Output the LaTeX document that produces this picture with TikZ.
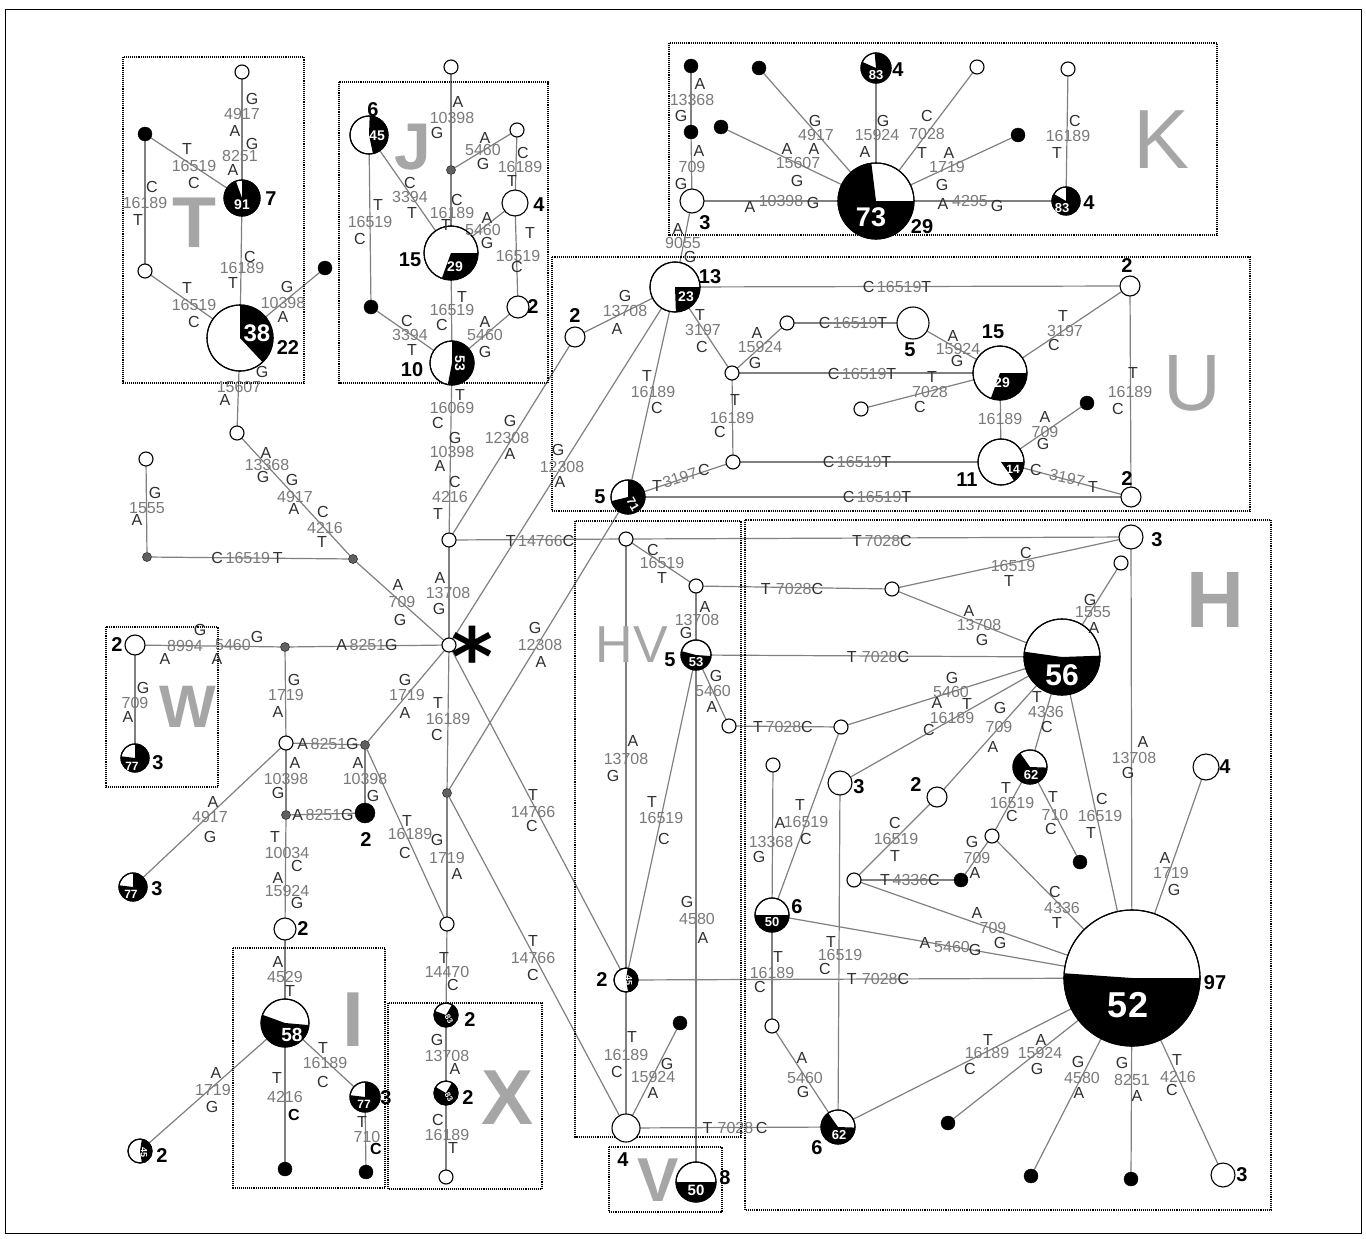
\documentclass[tikz,border=0pt]{standalone}
\usepackage{fontspec}
\setmainfont{Liberation Sans}
\newfontfamily\djv{DejaVu Sans}
\pgfdeclarelayer{background}
\pgfdeclarelayer{paper}
\pgfsetlayers{paper,background,main}
\definecolor{edgec}{HTML}{808080}
\definecolor{numc}{HTML}{7A7A7A}
\definecolor{letc}{HTML}{303030}
\definecolor{grpc}{HTML}{A6A6A6}
\definecolor{mvc}{HTML}{606060}
\tikzset{
 hap/.style={circle,draw=black,line width=1.1pt,fill=white,inner sep=0pt,outer sep=0pt},
 wsm/.style={hap,minimum size=14pt},
 bdot/.style={circle,fill=black,draw=black,inner sep=0pt,minimum size=14pt},
 mv/.style={circle,fill=mvc,draw=black!80,line width=0.6pt,inner sep=0pt,minimum size=9pt},
 edge/.style={draw=edgec,line width=1.2pt},
 lett/.style={text=letc,font=\fontsize{16}{16}\selectfont,inner sep=0pt},
 numb/.style={text=numc,font=\fontsize{16}{16}\selectfont,inner sep=0pt},
 cnt/.style={text=black,font=\fontsize{20}{20}\selectfont\bfseries,inner sep=0pt},
 ptxt/.style={text=white,inner sep=0pt},
 grp/.style={text=grpc,inner sep=0pt},
 grpbox/.style={draw=black,densely dotted,line width=1.1pt},
}
\newcounter{lbl}
\newcommand\W[3]{\node[wsm] (#1) at (#2,-#3) {};}
\newcommand\B[3]{\node[bdot] (#1) at (#2,-#3) {};}
\newcommand\M[3]{\node[mv] (#1) at (#2,-#3) {};}
\newcommand\HW[4]{\node[hap,minimum size=#4pt] (#1) at (#2,-#3) {};}
\newcommand\hpie[6]{\node[hap,minimum size=2*#4pt] (#1) at (#2,-#3) {};
 \fill[black] (#2,-#3) -- ++(#5:#4) arc[start angle=#5,end angle=#6,radius=#4] -- cycle;
 \draw[black,line width=1.1pt] (#2,-#3) circle[radius=#4];}
\newcommand\Lt[3]{\stepcounter{lbl}\node[lett] (lbl\thelbl) at (#1,-#2) {#3};}
\newcommand\Lb[3]{\stepcounter{lbl}\node[lett,text=black,font=\fontsize{16}{16}\selectfont\bfseries] (lbl\thelbl) at (#1,-#2) {#3};}
\newcommand\Nm[3]{\stepcounter{lbl}\node[numb] (lbl\thelbl) at (#1,-#2) {#3};}
\newcommand\Nr[4]{\stepcounter{lbl}\node[numb,rotate=#4] (lbl\thelbl) at (#1,-#2) {#3};}
\newcommand\HL[5]{\stepcounter{lbl}\node[numb] (lbl\thelbl) at (#1,-#2) {\textcolor{letc}{#3}\,#4\textcolor{letc}{#5}};}
\newcommand\CT[3]{\stepcounter{lbl}\node[cnt] (lbl\thelbl) at (#1,-#2) {#3};}
\newcommand\PT[5]{\stepcounter{lbl}\node[ptxt,font=\fontsize{#4}{#4}\selectfont\bfseries,#5] (lbl\thelbl) at (#1,-#2) {#3};}
\newcommand\GL[5]{\stepcounter{lbl}\node[grp,font=\fontsize{#4}{#4}\selectfont#5] (lbl\thelbl) at (#1,-#2) {#3};}
\begin{document}
\begin{tikzpicture}[x=1pt,y=1pt]
\useasboundingbox (0,0) rectangle (1366,-1239);
\begin{pgfonlayer}{paper}
\fill[white] (0,0) rectangle (1366,-1239);
\end{pgfonlayer}
\draw[black,line width=1pt] (5,-10) rectangle (1361,-1233);
% group boxes
\draw[grpbox] (123,-57) rectangle (304,-383);
\draw[grpbox] (339,-82) rectangle (548,-383);
\draw[grpbox] (669,-43) rectangle (1217,-235);
\draw[grpbox] (552,-257) rectangle (1250,-511);
\draw[grpbox] (106,-627) rectangle (218,-787);
\draw[grpbox] (233,-948) rectangle (385,-1188);
\draw[grpbox] (388,-1003) rectangle (542,-1189);
\draw[grpbox] (575,-521) rectangle (741,-1137);
\draw[grpbox] (745,-520) rectangle (1271,-1210);
\draw[grpbox] (609,-1147) rectangle (722,-1212);
% group letters
\GL{194}{223}{T}{72}{\bfseries}
\GL{413}{147}{J}{66}{\bfseries}
\GL{1162}{140}{K}{84}{}
\GL{1192}{383}{U}{80}{}
\GL{188}{707}{W}{60}{\bfseries}
\GL{353}{1020}{I}{78}{\bfseries}
\GL{508}{1098}{X}{78}{\bfseries}
\GL{632}{645}{HV}{52}{}
\GL{1215}{600}{H}{80}{\bfseries}
\GL{658}{1180}{V}{62}{\bfseries}
% ---------- nodes
% T
\W{t1}{242}{72}
\B{t2}{145}{134}
\hpie{t91}{242}{198}{18}{110}{450}
\W{t3}{145}{271}
\B{t4}{325}{268}
\hpie{t38}{240}{338}{33}{-47}{90}
\W{t5}{237}{433}
% left
\W{l1}{146}{459}
\M{m2}{147}{557}
\M{m1}{353}{559}
% W
\HW{w2}{135}{645}{20}
\hpie{w77}{135}{758}{14}{173}{450}
\M{m3}{285}{647}
% centre
\W{c1}{449}{540}
\W{star}{449}{645}
\W{a1}{286}{743}
\M{m4}{365}{745}
\M{m5}{286}{815}
\node[bdot,minimum size=20pt] (b2) at (365,-813) {};
\hpie{p77}{133}{887}{14}{173}{450}
\HW{a2}{285}{929}{22}
\M{m6}{447}{793}
\W{a3}{447}{924}
% I
\hpie{i58}{285}{1023}{24}{160}{355}
\B{ib1}{285}{1169}
\hpie{i77}{365}{1097}{15}{173}{450}
\B{ib2}{366}{1172}
\hpie{i45}{140}{1151}{12}{-81}{81}
% X
\hpie{x1}{446}{1015}{12}{160}{420}
\hpie{x2}{446}{1093}{12}{150}{420}
\W{x3}{446}{1177}
% J
\W{j1}{451}{67}
\hpie{j45}{369}{135}{19}{-78}{88}
\M{jm}{451}{170}
\W{j2}{517}{130}
\HW{j4}{515}{203}{26}
\hpie{j15}{451}{253}{27}{-110}{0}
\B{jb}{371}{307}
\HW{j2b}{518}{307}{22}
\hpie{j10}{452}{363}{22}{-101}{90}
% K
\B{kb1}{691}{66}
\B{kb2}{691}{132}
\HW{k3}{692}{201}{24}
\B{kb3}{759}{68}
\B{kb4}{721}{127}
\hpie{k83a}{876}{68}{15}{156}{455}
\W{kw1}{977}{67}
\B{kb5}{1018}{135}
\hpie{k73}{876}{201}{38}{97}{360}
\W{kw2}{1068}{69}
\hpie{k83b}{1066}{201}{14}{150}{450}
% U
\hpie{u13}{675}{287}{25}{-88}{0}
\HW{u2}{575}{337}{20}
\hpie{u71}{628}{497}{17}{194}{450}
\W{uw1}{732}{373}
\W{uw2}{787}{323}
\HW{u5}{913}{323}{32}
\W{uw3}{733}{462}
\W{uw4}{861}{409}
\hpie{u15}{1000}{373}{27}{-110}{0}
\hpie{u11}{1001}{462}{23}{-55}{0}
\HW{u2a}{1130}{286}{20}
\HW{u2b}{1131}{497}{20}
\B{ub}{1087}{403}
% HV
\W{hv1}{626}{539}
\W{hv2}{696}{586}
\hpie{hv53}{696}{655}{15}{165}{356}
\W{hv3}{729}{726}
\hpie{hv45}{626}{980}{12}{-80}{82}
\HW{hv4}{626}{1128}{28}
\B{hvb}{680}{1023}
\hpie{v50}{696}{1182}{20}{180}{360}
% H
\HW{h3}{1131}{537}{24}
\W{hs}{1121}{563}
\W{hw1}{892}{589}
\hpie{h56}{1062}{657}{38}{172}{362}
\W{hw2}{841}{727}
\W{hw3}{773}{765}
\HW{hn3}{840}{783}{24}
\HW{hn2}{937}{797}{20}
\hpie{h62a}{1030}{767}{17}{125}{358}
\W{hw4}{992}{836}
\B{hb1}{1080}{862}
\W{hw5}{854}{880}
\B{hb2}{961}{880}
\hpie{h50}{772}{915}{17}{180}{360}
\HW{h4}{1206}{767}{26}
\hpie{h52}{1132}{978}{68}{176}{360}
\W{hw6}{772}{1026}
\hpie{h62b}{838}{1127}{17}{125}{358}
\B{hb3}{948}{1123}
\B{hb4}{1031}{1176}
\B{hb5}{1131}{1179}
\HW{h3b}{1223}{1175}{24}
% ---------- pie texts
\PT{242}{205}{91}{14}{}
\PT{257}{333}{38}{24}{}
\PT{377}{136}{45}{14}{}
\PT{455}{267}{29}{14}{}
\PT{460}{363}{53}{14}{rotate=-90}
\PT{876}{75}{83}{13}{}
\PT{871}{217}{73}{27}{}
\PT{1062}{208}{83}{13}{}
\PT{686}{297}{23}{14}{}
\PT{633}{504}{71}{12}{rotate=-60}
\PT{1002}{383}{29}{14}{}
\PT{1013}{469}{14}{12}{}
\PT{132}{766}{77}{12}{}
\PT{131}{894}{77}{12}{}
\PT{292}{1035}{58}{19}{}
\PT{364}{1104}{77}{12}{}
\PT{144}{1152}{45}{9}{rotate=-90}
\PT{449}{1019}{83}{8}{rotate=-60}
\PT{449}{1097}{83}{8}{rotate=-60}
\PT{696}{662}{53}{13}{}
\PT{629}{980}{45}{9}{rotate=-90}
\PT{696}{1190}{50}{15}{}
\PT{772}{922}{50}{13}{}
\PT{1062}{675}{56}{30}{}
\PT{1031}{775}{62}{13}{}
\PT{839}{1135}{62}{13}{}
\PT{1128}{1005}{52}{36}{}
% ---------- counts
\CT{271}{199}{7}
\CT{288}{348}{22}
\CT{373}{110}{6}
\CT{539}{205}{4}
\CT{410}{260}{15}
\CT{533}{307}{2}
\CT{412}{370}{10}
\CT{705}{223}{3}
\CT{898}{70}{4}
\CT{922}{227}{29}
\CT{1089}{203}{4}
\CT{710}{277}{13}
\CT{575}{316}{2}
\CT{600}{497}{5}
\CT{910}{350}{5}
\CT{993}{332}{15}
\CT{967}{480}{11}
\CT{1127}{266}{2}
\CT{1127}{479}{2}
\CT{117}{645}{2}
\CT{158}{763}{3}
\CT{366}{840}{2}
\CT{157}{889}{3}
\CT{303}{929}{2}
\CT{386}{1098}{3}
\CT{162}{1156}{2}
\CT{470}{1020}{2}
\CT{468}{1098}{2}
\CT{670}{660}{5}
\CT{602}{980}{2}
\CT{623}{1160}{4}
\CT{725}{1178}{8}
\CT{1157}{540}{3}
\CT{859}{787}{3}
\CT{916}{785}{2}
\CT{1225}{767}{4}
\CT{797}{907}{6}
\CT{1215}{983}{97}
\CT{817}{1148}{6}
\CT{1242}{1175}{3}
\node[font=\djv\bfseries\fontsize{80}{80}\selectfont,inner sep=0pt] (asterisk) at (472,-656) {*};
% ---------- mutation labels
% T
\Lt{252}{99}{G} \Nm{242}{114}{4917} \Lt{235}{131}{A}
\Lt{252}{144}{G} \Nm{240}{156}{8251} \Lt{233}{170}{A}
\Lt{187}{149}{T} \Nm{194}{166}{16519} \Lt{194}{183}{C}
\Lt{152}{187}{C} \Nm{145}{203}{16189} \Lt{138}{220}{T}
\Lt{250}{257}{C} \Nm{242}{268}{16189} \Lt{233}{283}{T}
\Lt{187}{288}{T} \Nm{194}{305}{16519} \Lt{194}{322}{C}
\Lt{287}{287}{G} \Nm{283}{303}{10398} \Lt{283}{317}{A}
\Lt{262}{372}{G} \Nm{239}{387}{15607} \Lt{225}{400}{A}
% left
\Lt{266}{453}{A} \Nm{267}{465}{13368} \Lt{263}{477}{G}
\Lt{292}{480}{G} \Nm{295}{497}{4917} \Lt{294}{509}{A}
\Lt{323}{512}{C} \Nm{325}{528}{4216} \Lt{322}{542}{T}
\Lt{155}{493}{G} \Nm{147}{508}{1555} \Lt{137}{520}{A}
\HL{247}{558}{C}{16519\,}{T}
\Lt{398}{585}{A} \Nm{402}{602}{709} \Lt{400}{620}{G}
\Lt{440}{578}{A} \Nm{448}{593}{13708} \Lt{439}{609}{G}
% J
\Lt{458}{102}{A} \Nm{452}{118}{10398} \Lt{437}{133}{G}
\Lt{485}{138}{A} \Nm{483}{150}{5460} \Lt{483}{164}{G}
\Lt{523}{153}{C} \Nm{520}{167}{16189} \Lt{512}{181}{T}
\Lt{457}{200}{C} \Nm{452}{213}{16189} \Lt{446}{225}{T}
\Lt{410}{183}{C} \Nm{410}{197}{3394} \Lt{412}{213}{T}
\Lt{378}{205}{T} \Nm{370}{222}{16519} \Lt{360}{239}{C}
\Lt{487}{218}{A} \Nm{483}{230}{5460} \Lt{487}{243}{G}
\Lt{530}{233}{T} \Nm{518}{256}{16519} \Lt{517}{267}{C}
\Lt{462}{297}{T} \Nm{452}{310}{16519} \Lt{442}{325}{C}
\Lt{407}{321}{C} \Nm{410}{335}{3394} \Lt{412}{350}{T}
\Lt{485}{322}{A} \Nm{485}{335}{5460} \Lt{485}{352}{G}
\Lt{460}{395}{T} \Nm{452}{408}{16069} \Lt{438}{423}{C}
\Lt{455}{438}{G} \Nm{452}{452}{10398} \Lt{440}{466}{A}
\Lt{455}{482}{C} \Nm{450}{497}{4216} \Lt{438}{514}{T}
% centre
\HL{540}{541}{T}{14766}{C}
\Lt{510}{421}{G} \Nm{507}{438}{12308} \Lt{510}{454}{A}
\Lt{558}{450}{G} \Nm{562}{467}{12308} \Lt{560}{482}{A}
\Lt{535}{628}{G} \Nm{540}{645}{12308} \Lt{541}{662}{A}
\Lt{405}{680}{G} \Nm{407}{695}{1719} \Lt{405}{713}{A}
\Lt{438}{703}{T} \Nm{448}{719}{16189} \Lt{437}{735}{C}
\Lt{533}{795}{T} \Nm{533}{812}{14766} \Lt{532}{826}{C}
\Lt{533}{941}{T} \Nm{533}{958}{14766} \Lt{533}{975}{C}
% W and below
\Lt{200}{630}{G} \Nm{185}{646}{8994} \Lt{165}{659}{A}
\Nm{233}{645}{5460} \Lt{217}{659}{A} \Lt{257}{637}{G}
\HL{367}{645}{A}{8251}{G}
\Lt{143}{688}{G} \Nm{135}{703}{709} \Lt{128}{717}{A}
\Lt{294}{680}{G} \Nm{286}{695}{1719} \Lt{278}{712}{A}
\HL{328}{744}{A}{8251}{G}
\Lt{295}{763}{A} \Nm{286}{779}{10398} \Lt{278}{793}{G}
\Lt{358}{763}{A} \Nm{365}{779}{10398} \Lt{373}{796}{G}
\HL{323}{815}{A}{8251}{G}
\Lt{213}{802}{A} \Nm{210}{817}{4917} \Lt{210}{837}{G}
\Lt{407}{821}{T} \Nm{410}{834}{16189} \Lt{405}{853}{C}
\Lt{437}{840}{G} \Nm{447}{858}{1719} \Lt{457}{874}{A}
\Lt{275}{837}{T} \Nm{287}{853}{10034} \Lt{297}{866}{C}
\Lt{278}{878}{A} \Nm{287}{891}{15924} \Lt{297}{903}{G}
% I
\Lt{278}{962}{A} \Nm{285}{977}{4529} \Lt{290}{991}{T}
\Lt{277}{1078}{T} \Nm{285}{1097}{4216} \Lb{294}{1115}{C}
\Lt{323}{1048}{T} \Nm{325}{1063}{16189} \Lt{323}{1082}{C}
\Lt{362}{1122}{T} \Nm{367}{1137}{710} \Lb{376}{1149}{C}
\Lt{216}{1073}{A} \Nm{213}{1090}{1719} \Lt{212}{1107}{G}
% X
\Lt{444}{958}{T} \Nm{447}{972}{14470} \Lt{453}{985}{C}
\Lt{437}{1040}{G} \Nm{447}{1056}{13708} \Lt{455}{1069}{A}
\Lt{438}{1120}{C} \Nm{447}{1135}{16189} \Lt{453}{1148}{T}
% K
\Lt{700}{84}{A} \Nm{692}{100}{13368} \Lt{681}{116}{G}
\Lt{699}{151}{A} \Nm{692}{167}{709} \Lt{681}{184}{G}
\Lt{678}{229}{A} \Nm{683}{243}{9055} \Lt{690}{257}{G}
\Lt{815}{121}{G} \Nm{816}{135}{4917} \Lt{814}{149}{A}
\Lt{787}{149}{A} \Nm{798}{163}{15607} \Lt{797}{181}{G}
\Lt{883}{121}{G} \Nm{877}{135}{15924} \Lt{865}{152}{A}
\Lt{927}{116}{C} \Nm{927}{134}{7028} \Lt{922}{153}{T}
\Lt{949}{153}{A} \Nm{947}{167}{1719} \Lt{942}{185}{G}
\Lt{750}{207}{A} \Nm{781}{201}{10398} \Lt{813}{203}{G}
\Lt{943}{204}{A} \Nm{970}{201}{4295} \Lt{997}{206}{G}
\Lt{1075}{121}{C} \Nm{1068}{136}{16189} \Lt{1057}{153}{T}
% U
\Lt{625}{296}{G} \Nm{625}{311}{13708} \Lt{617}{329}{A}
\HL{897}{287}{C}{16519}{T}
\Lt{700}{315}{T} \Nm{703}{330}{3197} \Lt{702}{347}{C}
\Lt{757}{333}{A} \Nm{760}{347}{15924} \Lt{755}{363}{G}
\HL{853}{323}{C}{16519}{T}
\HL{862}{374}{C}{16519}{T}
\Lt{735}{400}{T} \Nm{732}{418}{16189} \Lt{720}{432}{C}
\Lt{647}{376}{T} \Nm{653}{392}{16189} \Lt{657}{408}{C}
\Lt{657}{486}{T} \Nr{680}{478}{3197}{18} \Lt{704}{470}{C}
\HL{857}{462}{C}{16519}{T}
\HL{877}{497}{C}{16519}{T}
\Lt{953}{336}{A} \Nm{958}{349}{15924} \Lt{957}{361}{G}
\Lt{932}{377}{T} \Nm{930}{392}{7028} \Lt{920}{407}{C}
\Lt{1063}{316}{T} \Nm{1065}{331}{3197} \Lt{1054}{345}{C}
\Nm{1000}{419}{16189}
\Lt{1045}{417}{A} \Nm{1045}{432}{709} \Lt{1043}{444}{G}
\Lt{1036}{470}{C} \Nr{1067}{478}{3197}{-12} \Lt{1093}{487}{T}
\Lt{1133}{373}{T} \Nm{1130}{392}{16189} \Lt{1118}{409}{C}
% HV
\Lt{653}{550}{C} \Nm{662}{563}{16519} \Lt{662}{578}{T}
\Lt{705}{607}{A} \Nm{697}{620}{13708} \Lt{686}{633}{G}
\Lt{716}{676}{G} \Nm{713}{691}{5460} \Lt{712}{707}{A}
\Lt{633}{741}{A} \Nm{626}{759}{13708} \Lt{613}{776}{G}
\Lt{652}{802}{T} \Nm{661}{818}{16519} \Lt{664}{839}{C}
\Lt{687}{902}{G} \Nm{697}{919}{4580} \Lt{703}{938}{A}
\Lt{632}{1037}{T} \Nm{626}{1055}{16189} \Lt{617}{1072}{C}
\Lt{667}{1064}{G} \Nm{653}{1077}{15924} \Lt{653}{1093}{A}
% H
\HL{882}{541}{T}{7028}{C}
\HL{792}{589}{T}{\,7028}{C}
\HL{878}{657}{T}{\,7028}{C}
\HL{783}{727}{T}{7028}{C}
\HL{878}{979}{T}{\,7028}{C}
\HL{735}{1128}{T}{\,7028\,}{C}
\Lt{1026}{553}{C} \Nm{1013}{566}{16519} \Lt{1009}{581}{T}
\Lt{969}{611}{A} \Nm{979}{625}{13708} \Lt{982}{640}{G}
\Lt{1090}{600}{G} \Nm{1093}{612}{1555} \Lt{1094}{628}{A}
\Lt{952}{678}{G} \Nm{951}{692}{5460} \Lt{937}{703}{A}
\Lt{967}{704}{T} \Nm{952}{718}{16189} \Lt{929}{730}{C}
\Lt{1000}{708}{G} \Nm{999}{727}{709} \Lt{993}{747}{A}
\Lt{1037}{697}{T} \Nm{1046}{712}{4336} \Lt{1047}{727}{C}
\Lt{1102}{799}{C} \Nm{1100}{816}{16519} \Lt{1091}{833}{T}
\Lt{1143}{742}{A} \Nm{1134}{758}{13708} \Lt{1128}{773}{G}
\Lt{1165}{858}{A} \Nm{1171}{873}{1719} \Lt{1174}{890}{G}
\Lt{1006}{788}{T} \Nm{1012}{803}{16519} \Lt{1012}{816}{C}
\Lt{1053}{797}{T} \Nm{1055}{815}{710} \Lt{1051}{829}{C}
\Lt{972}{842}{G} \Nm{977}{858}{709} \Lt{975}{873}{A}
\Lt{895}{823}{C} \Nm{896}{839}{16519} \Lt{895}{856}{T}
\HL{910}{880}{T}{4336}{C}
\Lt{800}{805}{T} \Lt{780}{823}{A} \Nm{806}{822}{16519} \Lt{806}{839}{C}
\Nm{771}{842}{13368} \Lt{759}{857}{G}
\Lt{831}{942}{T} \Nm{840}{955}{16519} \Lt{825}{969}{C}
\Lt{778}{957}{T} \Nm{772}{973}{16189} \Lt{760}{987}{C}
\Lt{802}{1058}{A} \Nm{805}{1078}{5460} \Lt{803}{1092}{G}
\Lt{925}{943}{A} \Nm{952}{947}{5460} \Lt{975}{950}{G}
\Lt{988}{1040}{T} \Nm{987}{1053}{16189} \Lt{970}{1069}{C}
\Lt{1041}{1040}{A} \Nm{1040}{1053}{15924} \Lt{1037}{1069}{G}
\Lt{1078}{1062}{G} \Nm{1082}{1078}{4580} \Lt{1079}{1093}{A}
\Lt{1122}{1063}{G} \Nm{1132}{1080}{8251} \Lt{1137}{1096}{A}
\Lt{1177}{1060}{T} \Nm{1178}{1077}{4216} \Lt{1172}{1090}{C}
\Lt{1055}{892}{C} \Nm{1062}{908}{4336} \Lt{1057}{923}{T}
\Lt{977}{913}{A} \Nm{993}{928}{709} \Lt{1000}{943}{G}
% ---------- edges
\begin{pgfonlayer}{background}
\foreach \a/\b in {t1/t91,t2/t91,t2/t3,t91/t38,t3/t38,t38/t4,t38/t5,t5/m1,
 l1/m2,m2/m1,m1/star,w2/w77,w2/m3,m3/star,
 c1/star,c1/j10,c1/hv1,c1/u2,star/u13,
 m3/a1,a1/m4,star/m4,star/m6,a1/m5,m4/b2,m5/b2,a1/p77,m4/a3,m6/a3,m5/a2,
 a2/i58,i58/ib1,i58/i77,i77/ib2,i58/i45,a3/x1,x1/x2,x2/x3,
 j1/jm,jm/j2,j2/j4,jm/j15,j45/j15,j45/jb,j4/j15,j4/j2b,j15/j10,jb/j10,j2b/j10,
 kb1/kb2,kb2/k3,k3/k73,kb3/k73,kb4/k73,k83a/k73,kw1/k73,kb5/k73,k73/k83b,kw2/k83b,k3/u13,
 u2/u13,u13/u2a,u13/uw1,u13/u71,uw1/uw2,uw2/u5,uw1/u15,uw1/uw3,uw3/u71,uw3/u11,u71/u2b,
 u5/u15,uw4/u15,u15/u2a,u15/u11,u11/ub,u11/u2b,u2a/u2b,m6/u71,
 hv1/hv2,hv2/hv53,hv53/hv3,hv1/hv45,hv53/hv45,hv53/v50,hv45/hv4,hv4/hvb,star/hv45,m6/hv4,
 hv1/h3,h3/hw1,hv2/hw1,hw1/h56,hs/h56,h3/h52,hv53/h56,hw2/h56,hv3/hw2,h56/hn3,h56/hn2,
 h56/h62a,h56/h52,hw2/h50,hw3/h50,hn3/h62b,hn2/hw5,h62a/hw4,h62a/hb1,hw4/hb2,hw4/h52,
 hw5/hb2,hw5/h52,h50/h52,h50/hw6,hw6/h62b,hv45/h52,h62b/h52,hv4/h62b,hb3/h52,hb4/h52,
 hb5/h52,h3b/h52,h4/h52}
 \draw[edge] (\a) -- (\b);
\end{pgfonlayer}
\end{tikzpicture}
\end{document}
